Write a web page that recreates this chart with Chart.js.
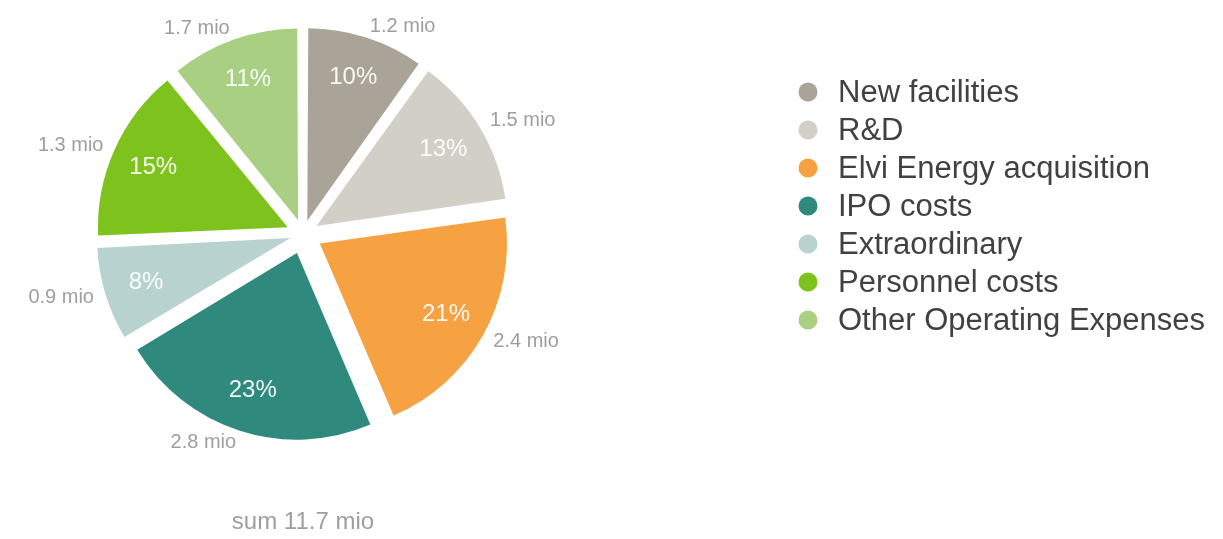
<!DOCTYPE html>
<html>
<head>
<meta charset="utf-8">
<title>Use of funds</title>
<script src="https://cdn.jsdelivr.net/npm/chart.js@4/dist/chart.umd.min.js"></script>
<style>
  html, body { margin:0; padding:0; background:#fff; }
  #wrap { width:1223px; height:539px; }
</style>
</head>
<body>
<div id="wrap"><canvas id="chartFunds" width="1223" height="539"></canvas></div>
<script>
// categories, shares (%) and amounts (mio)
const categories = ['New facilities', 'R&D', 'Elvi Energy acquisition', 'IPO costs', 'Extraordinary', 'Personnel costs', 'Other Operating Expenses'];
const shares = [10, 13, 21, 23, 8, 15, 11];
const amounts = [1.2, 1.5, 2.4, 2.8, 0.9, 1.3, 1.7];
const totalAmount = 11.7;

const COLORS = ['#aaa398', '#d2cfc7', '#f6a142', '#2f8a7d', '#b8d2d0', '#7dc21d', '#a9cf82'];
const FONT = '"Liberation Sans", Arial, Helvetica, sans-serif';
const EXPLODE = 20; // px each slice is pulled out

const shareSum = shares.reduce((a, b) => a + b, 0);

// chart.js translates an arc by offset/4 * (1 + fix), fix = 1 - sin(circ)
function offsetFor(i){
  const circ = shares[i] / shareSum * Math.PI * 2;
  const fix = 1 - Math.sin(Math.min(Math.PI, circ));
  return 4 * EXPLODE / (1 + fix);
}

// percentages inside, amounts outside
const sliceLabels = {
  id:'sliceLabels',
  afterDatasetsDraw(chart){
    const ctx = chart.ctx;
    const arcs = chart.getDatasetMeta(0).data;
    ctx.save();
    ctx.textBaseline = 'middle';
    arcs.forEach((arc, i) => {
      const mid = (arc.startAngle + arc.endAngle) / 2;
      const cos = Math.cos(mid), sin = Math.sin(mid);
      const R = arc.outerRadius;

      ctx.font = '24px ' + FONT;
      ctx.fillStyle = 'rgba(255,255,255,0.92)';
      ctx.textAlign = 'center';
      ctx.fillText(shares[i] + '%', arc.x + cos * R * 0.88, arc.y + sin * R * 0.88);

      const ax = arc.x + cos * (R + 32), ay = arc.y + sin * (R + 32);
      ctx.font = '20px ' + FONT;
      ctx.fillStyle = '#9e9e9e';
      ctx.textAlign = cos >= 0 ? 'left' : 'right';
      ctx.fillText(amounts[i].toFixed(1) + ' mio', ax, ay);
    });
    ctx.restore();
  }
};

// legend column at the right
const sideLegend = {
  id:'sideLegend',
  afterDraw(chart){
    const ctx = chart.ctx;
    ctx.save();
    ctx.font = '31px ' + FONT;
    ctx.textBaseline = 'middle';
    ctx.textAlign = 'left';
    categories.forEach((name, i) => {
      const y = 92 + i * 38;
      ctx.beginPath();
      ctx.arc(808, y, 9.5, 0, Math.PI * 2);
      ctx.fillStyle = COLORS[i];
      ctx.fill();
      ctx.fillStyle = '#414141';
      ctx.fillText(name, 838, y + 1);
    });
    ctx.restore();
  }
};

new Chart(document.getElementById('chartFunds'), {
  type:'pie',
  data:{
    labels:categories,
    datasets:[{
      data:shares,
      backgroundColor:COLORS,
      borderWidth:0,
      hoverOffset:0,
      offset:(c) => offsetFor(c.dataIndex)
    }]
  },
  options:{
    responsive:false,
    animation:false,
    layout:{padding:{left:70, right:687, top:8, bottom:2}},
    plugins:{
      legend:{display:false},
      tooltip:{enabled:false},
      title:{
        display:true,
        position:'bottom',
        fullSize:false,
        text:'sum ' + totalAmount.toFixed(1) + ' mio',
        color:'#9e9e9e',
        font:{family:FONT, size:24, weight:'normal'},
        padding:{top:48, bottom:0}
      }
    }
  },
  plugins:[sliceLabels, sideLegend]
});
</script>
</body>
</html>
